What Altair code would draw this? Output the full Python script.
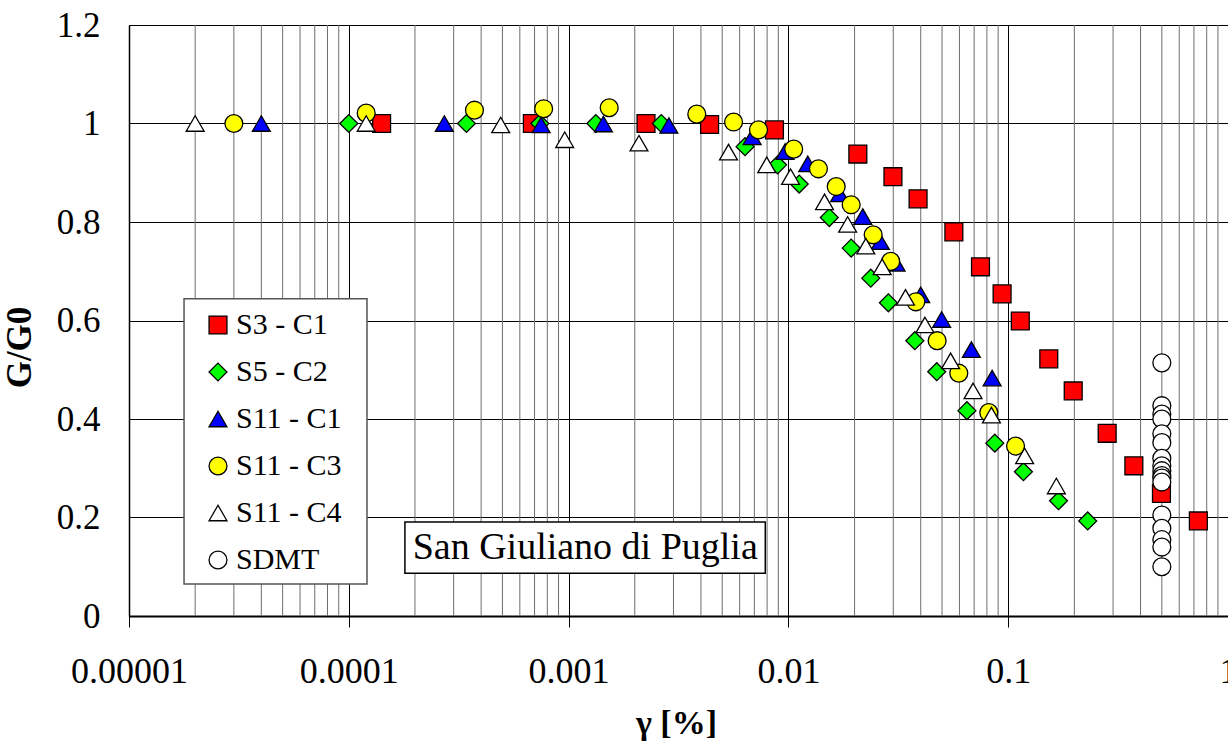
import altair as alt
import pandas as pd

# ---------------- data ----------------
s3_c1_x = [1.41e-4, 6.84e-4, 2.25e-3, 4.38e-3, 8.64e-3, 0.0207, 0.0299, 0.0389, 0.0566, 0.0748,
           0.0938, 0.1135, 0.153, 0.1976, 0.282, 0.373, 0.498, 0.733]
s3_c1_y = [1.0, 1.0, 1.0, 0.998, 0.987, 0.938, 0.892, 0.847, 0.78, 0.709,
           0.654, 0.599, 0.522, 0.457, 0.371, 0.305, 0.249, 0.193]

s5_c2_x = [1.0e-4, 3.43e-4, 7.4e-4, 1.33e-3, 2.64e-3, 6.35e-3, 8.93e-3, 0.0112, 0.01535, 0.0193,
           0.0237, 0.0285, 0.0376, 0.0473, 0.0649, 0.0869, 0.1173, 0.1694, 0.23]
s5_c2_y = [1.0, 1.0, 1.0, 1.0, 1.0, 0.953, 0.916, 0.877, 0.809, 0.747,
           0.686, 0.636, 0.559, 0.496, 0.417, 0.351, 0.293, 0.234, 0.193]

s11_c1_x = [4.0e-5, 2.72e-4, 7.5e-4, 1.44e-3, 2.86e-3, 6.84e-3, 9.66e-3, 0.01225, 0.0171, 0.0218,
            0.0262, 0.0309, 0.040, 0.0498, 0.068, 0.0845]
s11_c1_y = [1.0, 1.0, 0.997, 0.999, 0.996, 0.973, 0.943, 0.918, 0.857, 0.811,
            0.76, 0.716, 0.652, 0.602, 0.541, 0.483]

s11_c3_x = [3.0e-5, 1.2e-4, 3.73e-4, 7.7e-4, 1.53e-3, 3.83e-3, 5.63e-3, 7.31e-3, 0.01057, 0.0137,
            0.0165, 0.0193, 0.0243, 0.0292, 0.038, 0.0475, 0.0596, 0.0816, 0.108]
s11_c3_y = [1.0, 1.021, 1.027, 1.03, 1.032, 1.019, 1.003, 0.987, 0.948, 0.908,
            0.872, 0.835, 0.774, 0.72, 0.638, 0.559, 0.493, 0.413, 0.345]

s11_c4_x = [2.0e-5, 1.2e-4, 4.91e-4, 9.6e-4, 2.09e-3, 5.34e-3, 7.97e-3, 0.01023, 0.0146, 0.0186,
            0.0225, 0.0267, 0.0341, 0.0418, 0.0547, 0.0692, 0.0839, 0.1188, 0.1656]
s11_c4_y = [1.0, 1.0, 0.997, 0.967, 0.96, 0.942, 0.916, 0.892, 0.841, 0.795,
            0.751, 0.709, 0.647, 0.591, 0.518, 0.457, 0.408, 0.325, 0.264]

sdmt_x = [0.5] * 17
sdmt_y = [0.514, 0.427, 0.41, 0.40, 0.37, 0.352, 0.32, 0.305, 0.295, 0.285,
          0.28, 0.272, 0.205, 0.178, 0.155, 0.14, 0.10]

series_names = ["S3 - C1", "S5 - C2", "S11 - C1", "S11 - C3", "S11 - C4", "SDMT"]
series_fill = ["#FF0000", "#00FF00", "#0000FF", "#FFFF00", "#FFFFFF", "#FFFFFF"]
series_shape = ["square", "diamond", "triangle-up", "circle", "triangle-up", "circle"]

x_major = [1e-5, 1e-4, 1e-3, 1e-2, 1e-1, 1]
x_minor = [m * d for d in [1e-5, 1e-4, 1e-3, 1e-2, 1e-1] for m in range(2, 10)]
y_ticks = [0, 0.2, 0.4, 0.6, 0.8, 1.0, 1.2]

note_text = "San Giuliano di Puglia"
note_box = dict(x=1.8e-4, x2=7.85e-3, y=0.087, y2=0.191)
note_pos = dict(x=1.19e-3, y=0.139)
legend_box = dict(x=1.78e-5, x2=1.21e-4, y=0.065, y2=0.644)

# ---------------- build table ----------------
rows = []
for name, xs, ys in zip(series_names,
                        [s3_c1_x, s5_c2_x, s11_c1_x, s11_c3_x, s11_c4_x, sdmt_x],
                        [s3_c1_y, s5_c2_y, s11_c1_y, s11_c3_y, s11_c4_y, sdmt_y]):
    for xv, yv in zip(xs, ys):
        rows.append({"series": name, "gamma": xv, "ratio": yv})
df = pd.DataFrame(rows)

FONT = "Liberation Serif"
W, H = 1099, 591

xscale = alt.Scale(type="log", domain=[1e-5, 1], nice=False)
yscale = alt.Scale(domain=[0, 1.2], nice=False, zero=False)

x_axis = alt.Axis(values=x_major, grid=True, gridColor="black", gridWidth=1,
                  domainColor="black", domainWidth=2, ticks=True, tickSize=11,
                  tickColor="black", labelFont=FONT, labelFontSize=36,
                  labelColor="black", labelPadding=27, labelFlush=False,
                  labelExpr="format(datum.value, '~g')",
                  title="γ [%]", titleFont=FONT, titleFontSize=34,
                  titleFontWeight="bold", titleColor="black",
                  titleX=547, titleY=117, titleBaseline="alphabetic",
                  titleAlign="center", labelOverlap=False)
y_axis = alt.Axis(values=y_ticks, grid=True, gridColor="black", gridWidth=1,
                  domainColor="black", domainWidth=1.5, ticks=False,
                  labelFont=FONT, labelFontSize=35, labelColor="black",
                  labelPadding=29, labelFlush=False, labelOverlap=False,
                  labelExpr="format(datum.value, '~g')",
                  title="G/G0", titleFont=FONT, titleFontSize=35,
                  titleFontWeight="bold", titleColor="black",
                  titleX=-99, titleY=322, titleAngle=-90,
                  titleBaseline="alphabetic", titleAlign="center")

minor = alt.Chart(pd.DataFrame({"g": x_minor})).mark_rule(
    color="#6e6e6e", strokeWidth=1
).encode(x=alt.X("g:Q", scale=xscale, axis=x_axis))

lbox_df = pd.DataFrame([legend_box])
lbox = alt.Chart(lbox_df).mark_rect(fill="white", stroke="#555555", strokeWidth=1.5).encode(
    x=alt.X("x:Q", scale=xscale), x2="x2:Q",
    y=alt.Y("y:Q", scale=yscale), y2="y2:Q")

leg = alt.Legend(title=None, orient="none", legendX=55, legendY=274,
                 padding=11, symbolOffset=8, labelOffset=3,
                 rowPadding=17, symbolSize=320,
                 symbolStrokeWidth=1.3,
                 labelFont=FONT, labelFontSize=30, labelColor="black",
                 labelLimit=300)

points = alt.Chart(df).mark_point(
    filled=True, size=320, strokeWidth=1.3, opacity=1
).encode(
    x=alt.X("gamma:Q", scale=xscale, axis=x_axis),
    y=alt.Y("ratio:Q", scale=yscale, axis=y_axis),
    fill=alt.Fill("series:N", sort=series_names,
                  scale=alt.Scale(domain=series_names, range=series_fill), legend=leg),
    shape=alt.Shape("series:N", sort=series_names,
                    scale=alt.Scale(domain=series_names, range=series_shape), legend=leg),
    stroke=alt.Stroke("series:N", sort=series_names,
                      scale=alt.Scale(domain=series_names, range=["black"] * 6), legend=leg),
    order=alt.Order("idx:Q"),
).transform_calculate(
    idx="indexof(" + str(series_names).replace("'", '"') + ", datum.series)"
)

note_df = pd.DataFrame([{**note_box, "tx": note_pos["x"], "ty": note_pos["y"], "t": note_text}])
box = alt.Chart(note_df).mark_rect(fill="white", stroke="black", strokeWidth=1.5).encode(
    x=alt.X("x:Q", scale=xscale), x2="x2:Q",
    y=alt.Y("y:Q", scale=yscale), y2="y2:Q")
label = alt.Chart(note_df).mark_text(font=FONT, fontSize=38, color="black",
                                     align="center", baseline="middle").encode(
    x=alt.X("tx:Q", scale=xscale), y=alt.Y("ty:Q", scale=yscale), text="t:N")

chart = alt.layer(minor, lbox, points, box, label).properties(
    width=W, height=H,
    autosize=alt.AutoSizeParams(type="none"),
    padding={"left": 129, "top": 25, "right": 0, "bottom": 129},
).configure_view(stroke=None).configure(background="white")

chart.save("out.html", embed_options={"renderer": "svg", "actions": False})
